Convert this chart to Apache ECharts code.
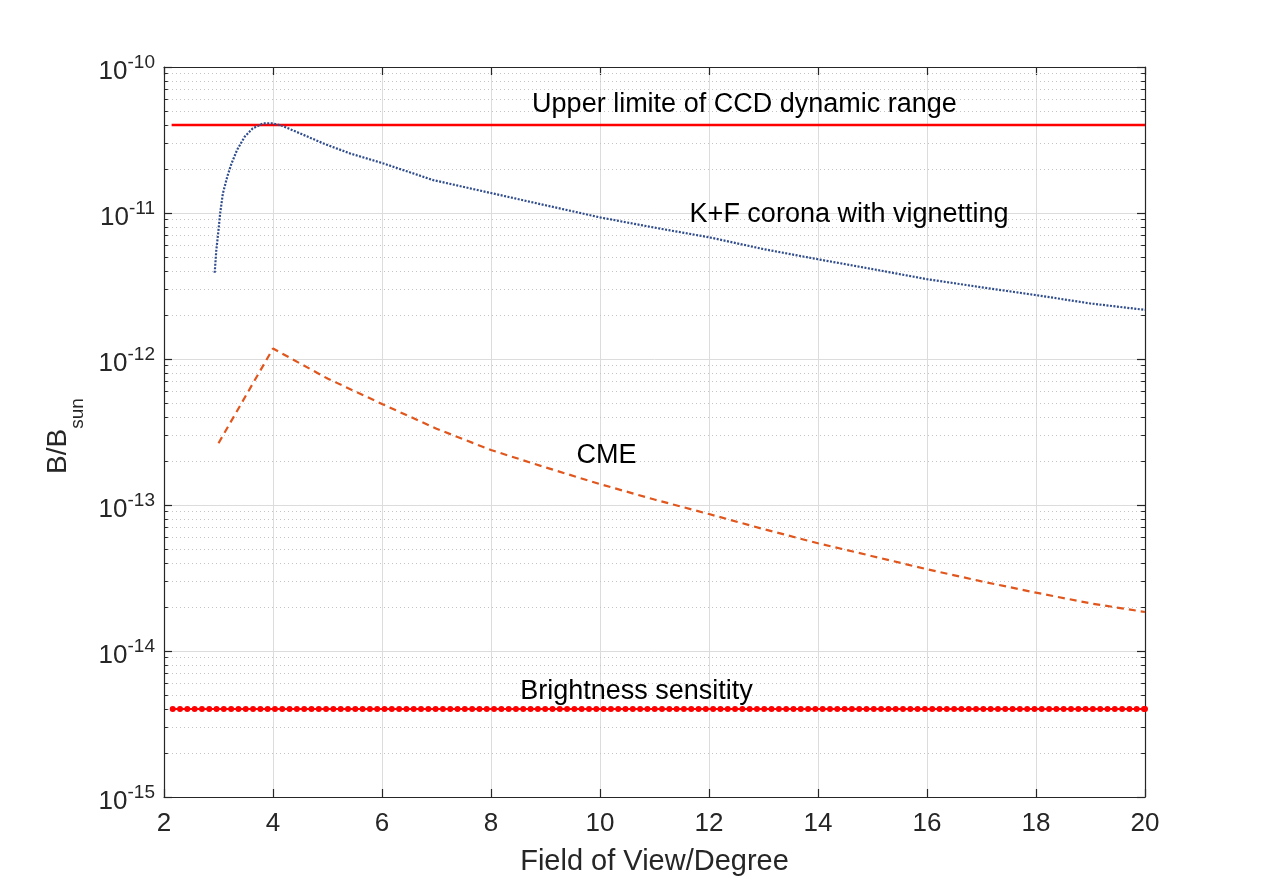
<!DOCTYPE html>
<html>
<head>
<meta charset="utf-8">
<script src="https://cdn.jsdelivr.net/npm/echarts@6/dist/echarts.min.js"></script>
<style>
html,body{margin:0;padding:0;background:#fff;}
#chart{width:1265px;height:896px;}
</style>
</head>
<body>
<div id="chart"></div>
<script>
// ---- data ----
const xTickValues = [2, 4, 6, 8, 10, 12, 14, 16, 18, 20];
const yDecades = [-15, -14, -13, -12, -11, -10];

const upperX = [2.14, 20];
const upperY = [4e-11, 4e-11];

const kfX = [2.93, 2.96, 3.0, 3.03, 3.08, 3.16, 3.24, 3.34, 3.48, 3.63, 3.82, 4.0, 4.18, 4.49, 4.92, 5.41, 6.0, 6.94, 8.0, 9.0, 10, 11, 12, 13, 14, 15, 16, 17, 18, 19, 20];
const kfY = [3.9e-12, 5.57e-12, 7.64e-12, 9.93e-12, 1.36e-11, 1.77e-11, 2.19e-11, 2.70e-11, 3.33e-11, 3.8e-11, 4.11e-11, 4.11e-11, 3.94e-11, 3.52e-11, 3.0e-11, 2.56e-11, 2.2e-11, 1.68e-11, 1.37e-11, 1.13e-11, 9.33e-12, 7.94e-12, 6.82e-12, 5.66e-12, 4.82e-12, 4.13e-12, 3.52e-12, 3.1e-12, 2.74e-12, 2.4e-12, 2.17e-12];

const cmeX = [3, 4, 5, 6, 7, 8, 9, 10, 11, 12, 13, 14, 15, 16, 17, 18, 19, 20];
const cmeY = [2.65e-13, 1.18e-12, 7.35e-13, 4.92e-13, 3.33e-13, 2.38e-13, 1.81e-13, 1.39e-13, 1.09e-13, 8.67e-14, 6.84e-14, 5.47e-14, 4.46e-14, 3.63e-14, 3.0e-14, 2.51e-14, 2.12e-14, 1.85e-14];

// brightness sensitivity: constant level, sampled with markers
const bsLevel = 4e-15;
const bsStart = 2.16, bsEnd = 20, bsStep = 0.134;

const annoText = ['Upper limite of CCD dynamic range', 'K+F corona with vignetting', 'CME', 'Brightness sensitity'];
const annoX = [12.65, 14.57, 10.12, 10.67];
const annoY = [5.5e-11, 9.7e-12, 2.19e-13, 5.26e-15];

// ---- build ----
const FONT = '"Liberation Sans", Arial, Helvetica, sans-serif';
const AX = '#262626';
const zip = (xs, ys) => xs.map((x, i) => [x, ys[i]]);

const bsData = [];
for (let x = bsStart; x <= bsEnd + 1e-9; x += bsStep) bsData.push([x, bsLevel]);
bsData.push([bsEnd, bsLevel]);

const minorVals = [];
yDecades.slice(0, -1).forEach(e => {
  for (let m = 2; m <= 9; m++) minorVals.push(m * Math.pow(10, e));
});
const minorGrid = minorVals.map(v => [{ coord: [2, v] }, { coord: [20, v] }]);
const minorTicks = [];
minorVals.forEach(v => {
  minorTicks.push([{ coord: [2, v] }, { coord: [2.07, v] }]);
  minorTicks.push([{ coord: [19.93, v] }, { coord: [20, v] }]);
});

const chart = echarts.init(document.getElementById('chart'), null, { renderer: 'canvas' });
const yLabelRich = {
  b: { fontSize: 26, color: AX, fontFamily: FONT, padding: [10, 0, 0, 0], verticalAlign: 'bottom' },
  e: { fontSize: 19, color: AX, fontFamily: FONT, padding: [4, 0, 0, 0], verticalAlign: 'top' }
};

chart.setOption({
  backgroundColor: '#ffffff',
  animation: false,
  textStyle: { fontFamily: FONT },
  grid: { left: 164, right: 120, top: 67, bottom: 99, containLabel: false },
  xAxis: [{
    type: 'value', min: 2, max: 20, interval: 2, position: 'bottom',
    axisLine: { show: true, onZero: false, lineStyle: { color: AX, width: 1.2 } },
    axisTick: { show: true, inside: true, length: 8, lineStyle: { color: AX, width: 1.2 } },
    axisLabel: { fontSize: 26, color: AX, margin: 14, fontFamily: FONT, formatter: v => xTickValues.includes(v) ? String(v) : '' },
    splitLine: { show: true, lineStyle: { color: '#dcdcdc', width: 1 } },
    name: 'Field of View/Degree', nameLocation: 'middle', nameGap: 50,
    nameTextStyle: { fontSize: 29, color: AX, fontFamily: FONT }
  }, {
    type: 'value', min: 2, max: 20, interval: 2, position: 'top',
    axisLine: { show: true, onZero: false, lineStyle: { color: AX, width: 1.2 } },
    axisTick: { show: true, inside: true, length: 8, lineStyle: { color: AX, width: 1.2 } },
    axisLabel: { show: false }, splitLine: { show: false }
  }],
  yAxis: [{
    type: 'log', logBase: 10, min: 1e-15, max: 1e-10, splitNumber: 5, position: 'left',
    axisLine: { show: true, onZero: false, lineStyle: { color: AX, width: 1.2 } },
    axisTick: { show: true, inside: true, length: 8, lineStyle: { color: AX, width: 1.2 } },
    axisLabel: {
      margin: 9, color: AX,
      formatter: v => '{b|10}{e|' + Math.round(Math.log10(v)) + '}',
      rich: yLabelRich
    },
    splitLine: { show: true, lineStyle: { color: '#dcdcdc', width: 1 } },
    name: '{a|B/B}{s|sun}', nameLocation: 'middle', nameGap: 74, nameRotate: 90,
    nameTextStyle: {
      padding: [0, 8, 0, 0],
      rich: {
        a: { fontSize: 28, color: AX, fontFamily: FONT, verticalAlign: 'top' },
        s: { fontSize: 19, color: AX, fontFamily: FONT, padding: [24, 0, 0, 0], verticalAlign: 'bottom' }
      }
    }
  }, {
    type: 'log', logBase: 10, min: 1e-15, max: 1e-10, splitNumber: 5, position: 'right',
    axisLine: { show: true, onZero: false, lineStyle: { color: AX, width: 1.2 } },
    axisTick: { show: true, inside: true, length: 8, lineStyle: { color: AX, width: 1.2 } },
    axisLabel: { show: false }, splitLine: { show: false }
  }],
  series: [
    {
      name: 'minorGrid', type: 'line', data: [], z: 1, silent: true,
      markLine: {
        silent: true, symbol: 'none', label: { show: false },
        lineStyle: { color: '#c4c4c4', width: 1, type: [1, 3] },
        data: minorGrid
      }
    },
    {
      name: 'minorTicks', type: 'line', data: [], z: 3, silent: true,
      markLine: {
        silent: true, symbol: 'none', label: { show: false },
        lineStyle: { color: AX, width: 1, type: 'solid' },
        data: minorTicks
      }
    },
    {
      name: 'Upper limit', type: 'line', data: zip(upperX, upperY), showSymbol: false, symbol: 'none',
      lineStyle: { color: '#ff0000', width: 2.5 }, z: 5
    },
    {
      name: 'K+F corona', type: 'line', data: zip(kfX, kfY), showSymbol: false, symbol: 'none',
      lineStyle: { color: '#2f4c8c', width: 2.2, type: [2, 1.5] }, z: 5
    },
    {
      name: 'CME', type: 'line', data: zip(cmeX, cmeY), showSymbol: false, symbol: 'none',
      lineStyle: { color: '#e0561c', width: 2.2, type: [7, 5] }, z: 5
    },
    {
      name: 'Brightness sensitivity', type: 'line', data: bsData, symbol: 'circle', symbolSize: 6, showSymbol: true,
      itemStyle: { color: '#ff0000' }, lineStyle: { color: '#ff0000', width: 2 }, z: 5
    },
    {
      name: 'annotations', type: 'scatter', symbolSize: 0, z: 6, silent: true,
      itemStyle: { opacity: 1 },
      data: annoText.map((t, i) => ({ name: t, value: [annoX[i], annoY[i]] })),
      label: { show: true, position: 'inside', formatter: p => p.name, fontSize: 27, color: '#000000', opacity: 1, textBorderWidth: 0, fontFamily: FONT }
    }
  ]
});
</script>
</body>
</html>
